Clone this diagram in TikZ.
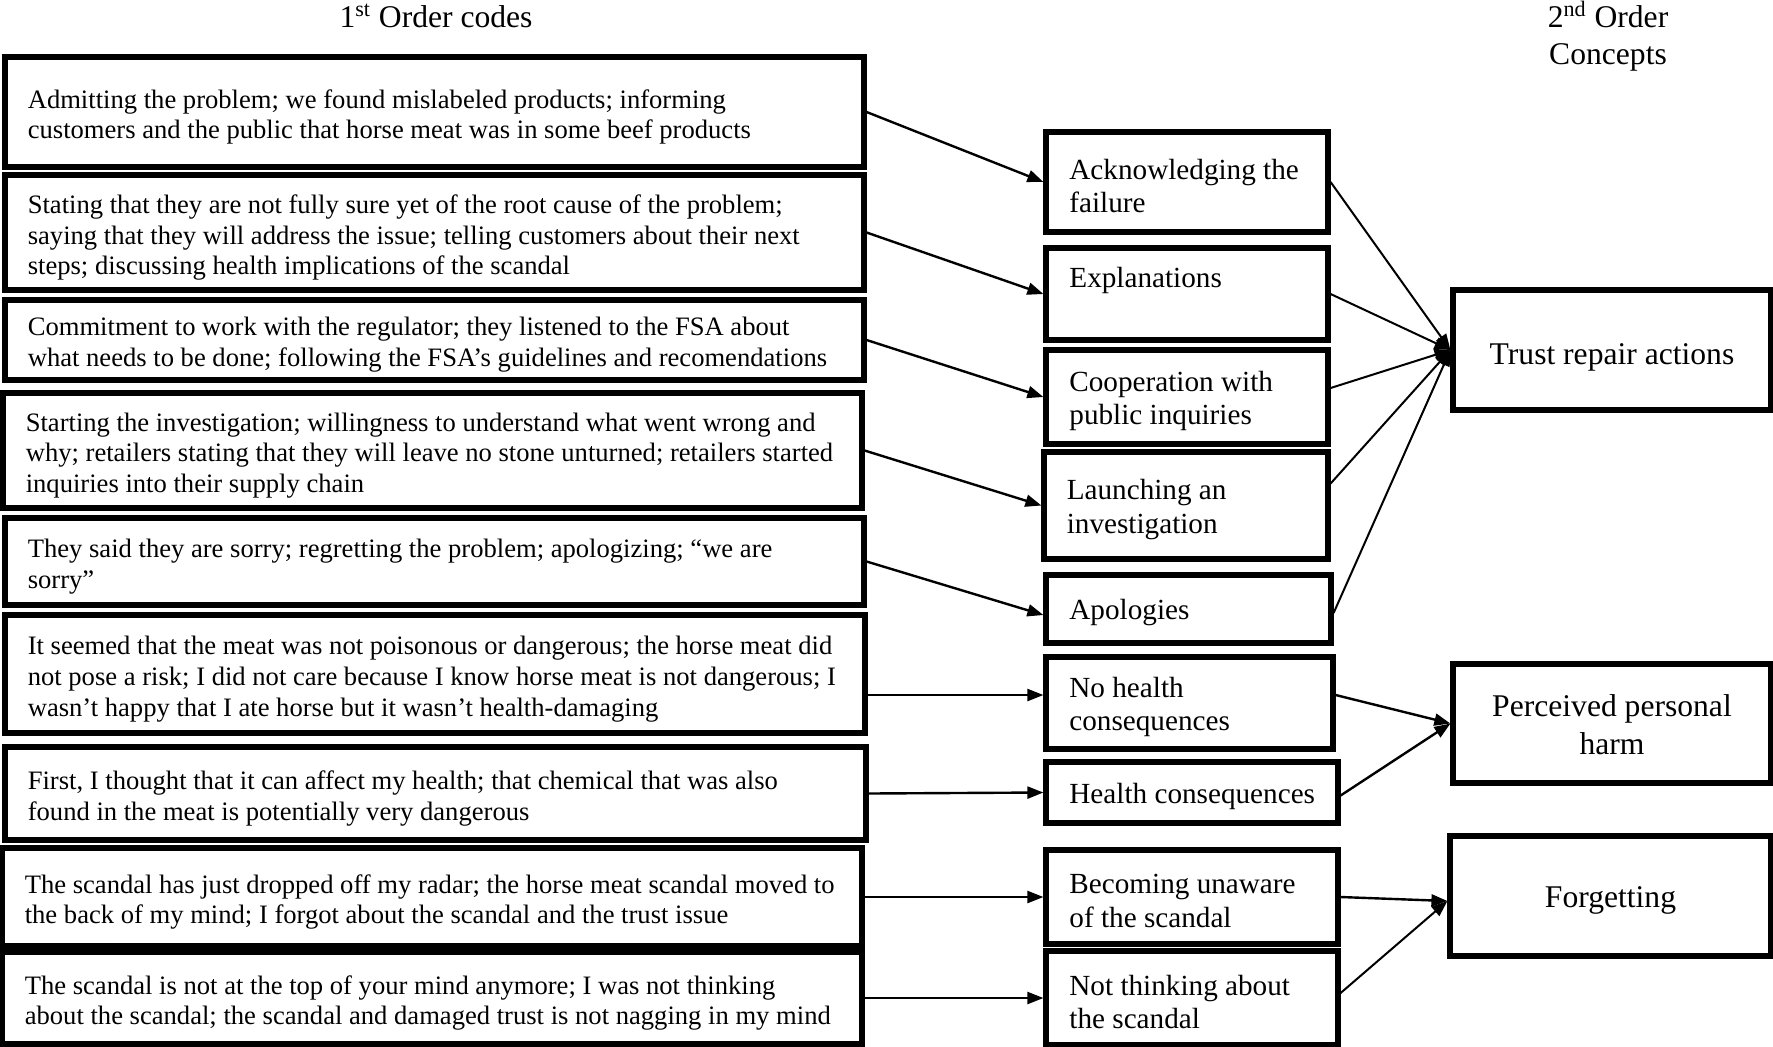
\documentclass[tikz,border=0pt]{standalone}
\usepackage{fontspec}
\setmainfont{Liberation Serif}
\usetikzlibrary{arrows.meta,fit}
\begin{document}
\begin{tikzpicture}[x=0.5pt,y=-0.5pt,
  box/.style={draw, line width=2.6pt, inner sep=0pt},
  ltext/.style={anchor=west, align=left, inner sep=0pt, font=\fontsize{13.3}{15.4}\selectfont},
  mtext/.style={anchor=west, align=left, inner sep=0pt, font=\fontsize{14.6}{16.9}\selectfont},
  rtext/.style={align=center, inner sep=0pt, font=\fontsize{15.8}{19}\selectfont},
  ttl/.style={align=center, inner sep=0pt, font=\fontsize{15.8}{18.5}\selectfont},
  arr/.style={line width=1.2pt, -{Triangle[length=8pt,width=6pt]}},
  arrb/.style={line width=1pt, -{Triangle[length=8pt,width=6pt]}}]
\useasboundingbox (0,0) rectangle (1773,1046);

% titles
\node[ttl] (T1) at (436,16) {1\textsuperscript{st} Order codes};
\node[ttl] (T2) at (1608,36) {2\textsuperscript{nd} Order\\Concepts};

% 1st order boxes
\node[box, fit={(5,57) (864,167)}] (B1) {};
\node[box, fit={(5,175) (864,290)}] (B2) {};
\node[box, fit={(5,300) (864,380)}] (B3) {};
\node[box, fit={(3,393) (862,508)}] (B4) {};
\node[box, fit={(5,518) (864,605)}] (B5) {};
\node[box, fit={(5,615) (865,733)}] (B6) {};
\node[box, fit={(5,747) (866,840)}] (B7) {};
\node[box, fit={(2,848) (862,946)}] (B8) {};
\node[box, fit={(2,952) (862,1044)}] (B9) {};

\node[ltext] (B1t) at ([xshift=12.5pt,yshift=-2.5pt]B1.west) {Admitting the problem; we found mislabeled products; informing\\customers and the public that horse meat was in some beef products};
\node[ltext] (B2t) at ([xshift=12.5pt,yshift=-2.5pt]B2.west) {Stating that they are not fully sure yet of the root cause of the problem;\\saying that they will address the issue; telling customers about their next\\steps; discussing health implications of the scandal};
\node[ltext] (B3t) at ([xshift=12.5pt,yshift=-2.5pt]B3.west) {Commitment to work with the regulator; they listened to the FSA about\\what needs to be done; following the FSA’s guidelines and recomendations};
\node[ltext] (B4t) at ([xshift=12.5pt,yshift=-2.5pt]B4.west) {Starting the investigation; willingness to understand what went wrong and\\why; retailers stating that they will leave no stone unturned; retailers started\\inquiries into their supply chain};
\node[ltext] (B5t) at ([xshift=12.5pt,yshift=-2.5pt]B5.west) {They said they are sorry; regretting the problem; apologizing; “we are\\sorry”};
\node[ltext] (B6t) at ([xshift=12.5pt,yshift=-2.5pt]B6.west) {It seemed that the meat was not poisonous or dangerous; the horse meat did\\not pose a risk; I did not care because I know horse meat is not dangerous; I\\wasn’t happy that I ate horse but it wasn’t health-damaging};
\node[ltext] (B7t) at ([xshift=12.5pt,yshift=-2.5pt]B7.west) {First, I thought that it can affect my health; that chemical that was also\\found in the meat is potentially very dangerous};
\node[ltext] (B8t) at ([xshift=12.5pt,yshift=-2.5pt]B8.west) {The scandal has just dropped off my radar; the horse meat scandal moved to\\the back of my mind; I forgot about the scandal and the trust issue};
\node[ltext] (B9t) at ([xshift=12.5pt,yshift=-2.5pt]B9.west) {The scandal is not at the top of your mind anymore; I was not thinking\\about the scandal; the scandal and damaged trust is not nagging in my mind};

% 2nd order concept boxes
\node[box, fit={(1046,132) (1328,232)}] (M1) {};
\node[box, fit={(1046,248) (1328,340)}] (M2) {};
\node[box, fit={(1046,350) (1328,444)}] (M3) {};
\node[box, fit={(1044,452) (1328,559)}] (M4) {};
\node[box, fit={(1046,575) (1331,643)}] (M5) {};
\node[box, fit={(1046,657) (1333,749)}] (M6) {};
\node[box, fit={(1046,762) (1338,823)}] (M7) {};
\node[box, fit={(1046,850) (1338,944)}] (M8) {};
\node[box, fit={(1046,951) (1338,1045)}] (M9) {};

\node[mtext] (M1t) at ([xshift=12.8pt,yshift=-2pt]M1.west) {Acknowledging the\\failure};
\node[mtext] (M2t) at ([xshift=12.8pt,yshift=7pt]M2.west) {Explanations};
\node[mtext] (M3t) at ([xshift=12.8pt,yshift=-2pt]M3.west) {Cooperation with\\public inquiries};
\node[mtext] (M4t) at ([xshift=12.5pt,yshift=-2pt]M4.west) {Launching an\\investigation};
\node[mtext] (M5t) at ([xshift=12.8pt,yshift=-2pt]M5.west) {Apologies};
\node[mtext] (M6t) at ([xshift=12.8pt,yshift=-2pt]M6.west) {No health\\consequences};
\node[mtext] (M7t) at ([xshift=12.8pt,yshift=-2pt]M7.west) {Health consequences};
\node[mtext] (M8t) at ([xshift=12.8pt,yshift=-2pt]M8.west) {Becoming unaware\\of the scandal};
\node[mtext] (M9t) at ([xshift=12.8pt,yshift=-2pt]M9.west) {Not thinking about\\the scandal};

% aggregate dimensions
\node[box, fit={(1453,290) (1771,410)}] (R1) {};
\node[box, fit={(1453,664) (1771,783)}] (R2) {};
\node[box, fit={(1450,836) (1771,956)}] (R3) {};
\node[rtext] (R1t) at ([yshift=-3.5pt]R1.center) {Trust repair actions};
\node[rtext] (R2t) at ([yshift=-0.5pt]R2.center) {Perceived personal\\harm};
\node[rtext] (R3t) at ([yshift=-2pt]R3.center) {Forgetting};

% connectors: 1st order -> concepts
\draw[arr] (B1.east) -- (M1.west);
\draw[arr] (B2.east) -- (M2.west);
\draw[arr] (B3.east) -- (M3.west);
\draw[arr] (B4.east) -- (M4.west);
\draw[arr] (B5.east) -- ([yshift=-3pt]M5.west);
\coordinate (m6in) at ([yshift=4pt]M6.west);
\draw[arr] (B6.east |- m6in) -- (m6in);
\draw[arr] (B7.east) -- (M7.west);
\draw[arr] (B8.east) -- (M8.west);
\draw[arr] (B9.east) -- (M9.west);

% connectors: concepts -> aggregates
\draw[arrb] (M1.east) -- (R1.west);
\draw[arrb] (M2.east) -- (R1.west);
\draw[arrb] ([yshift=4.5pt]M3.east) -- (R1.west);
\draw[arrb] ([yshift=11pt]M4.east) -- (R1.west);
\draw[arrb] ([yshift=-2pt]M5.east) -- (R1.west);
\draw[arr] ([yshift=4pt]M6.east) -- (R2.west);
\draw[arr] ([yshift=-1.5pt]M7.east) -- (R2.west);
\draw[arr] (M8.east) -- ([yshift=-2.5pt]R3.west);
\draw[arrb] ([yshift=2.5pt]M9.east) -- ([yshift=-2.5pt]R3.west);
\end{tikzpicture}
\end{document}
